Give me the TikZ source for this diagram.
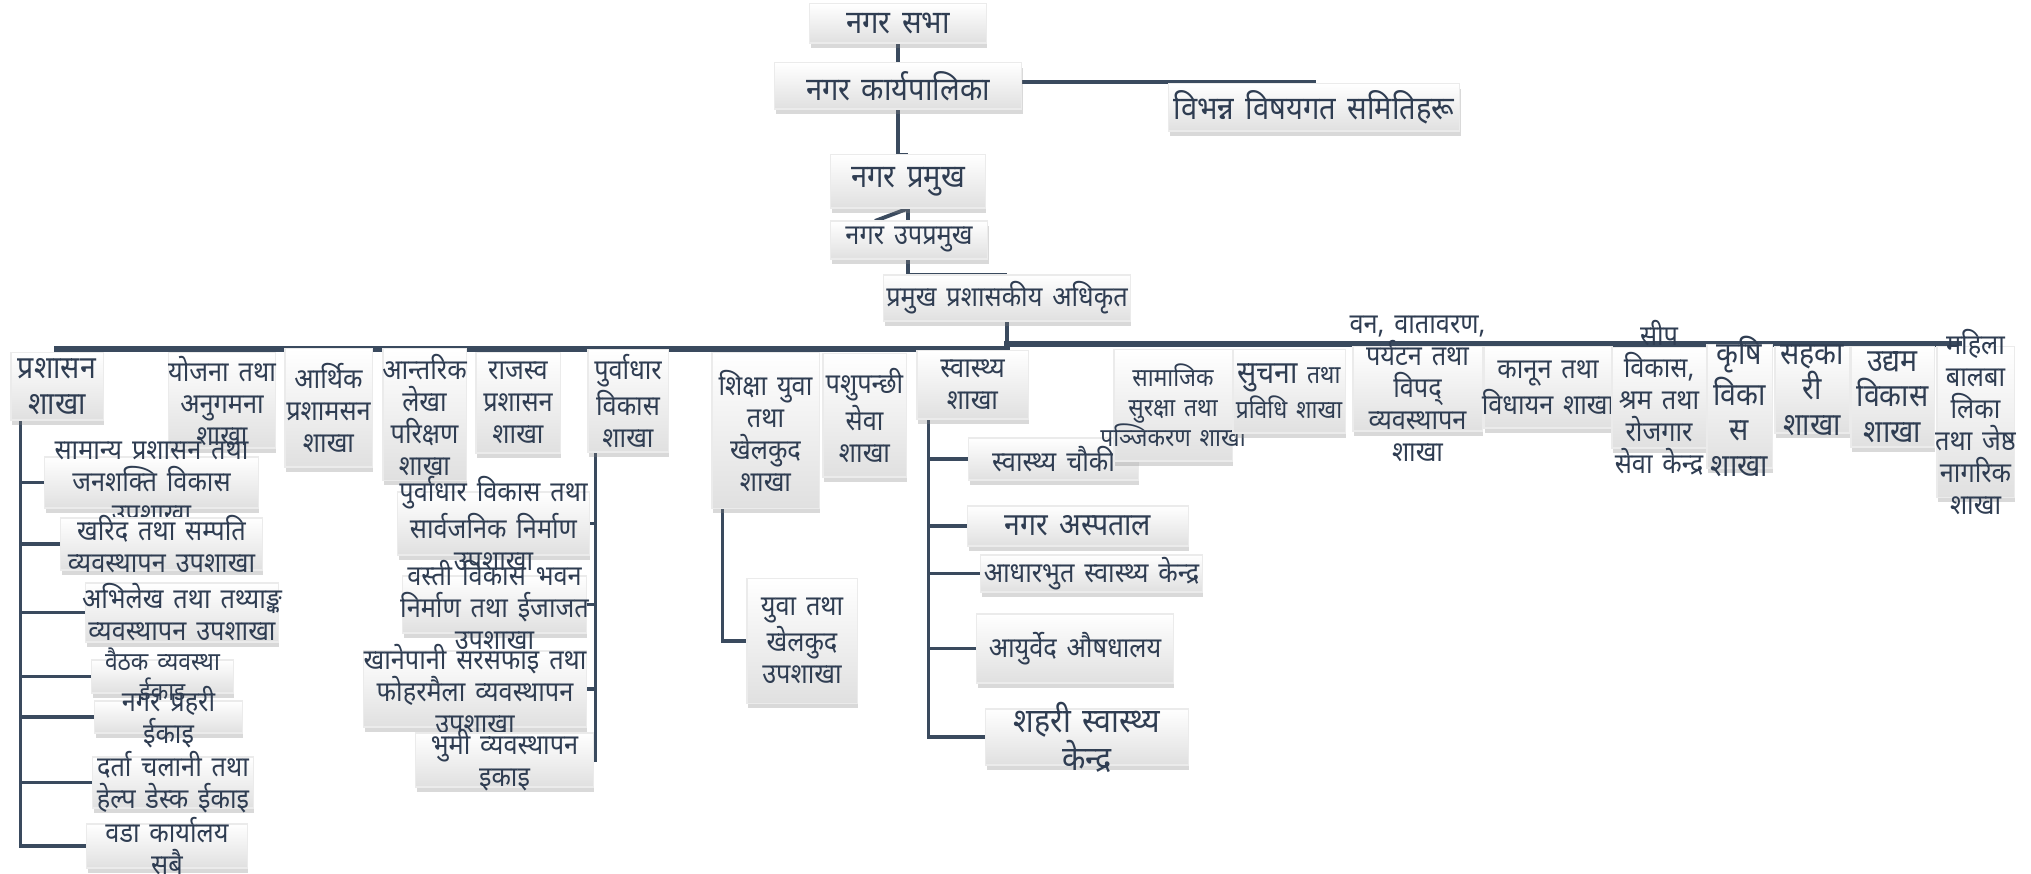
\documentclass[tikz,border=0pt]{standalone}
\usepackage{fontspec}
\setmainfont[Script=Devanagari, FakeStretch=0.9, WordSpace=1.5]{Noto Sans}
\usepackage{tikz}
\usetikzlibrary{shadows,backgrounds}

\definecolor{linkclr}{HTML}{3A4A5E}
\definecolor{textclr}{HTML}{2F3D52}
\definecolor{boxbot}{HTML}{E0E0E0}

\tikzset{
    unit/.style={inner sep=0pt, top color=white, bottom color=boxbot, draw=black!8, line width=0.3pt,
        drop shadow={shadow xshift=0.4pt, shadow yshift=-1.4pt, opacity=0.3}},
    txt/.style={text=textclr, align=center, inner sep=0pt, font=\fontsize{8}{9.1}\selectfont},
    txtbig/.style={txt, font=\fontsize{9}{10.1}\selectfont},
    txthuge/.style={txt, font=\fontsize{9.6}{10.8}\selectfont},
    txtsmall/.style={txt, font=\fontsize{7.2}{8.5}\selectfont},
    txttop/.style={txt, font=\fontsize{9.2}{10.5}\selectfont},
    link/.style={draw=linkclr, line width=1.1pt},
    bus/.style={draw=linkclr, line width=1.5pt},
}

\begin{document}
\begin{tikzpicture}[x=0.01cm, y=-0.01cm]
    \useasboundingbox (0,0) rectangle (2031,874);

    \node[unit, minimum width=1.76cm, minimum height=0.39cm, label={[txttop]center:नगर सभा}] (sabha) at (898,23.5) {};
    \node[unit, minimum width=2.47cm, minimum height=0.46cm, label={[txttop]center:नगर कार्यपालिका}] (karya) at (898,86) {};
    \node[unit, minimum width=2.90cm, minimum height=0.47cm, label={[txttop]center:विभन्न विषयगत समितिहरू}] (samiti) at (1314,107.5) {};
    \node[unit, minimum width=1.54cm, minimum height=0.53cm, label={[txttop]center:नगर प्रमुख}] (pramukh) at (908,181.5) {};
    \node[unit, minimum width=1.57cm, minimum height=0.38cm, label={[txt]center:नगर उपप्रमुख}] (upa) at (909,240) {};
    \node[unit, minimum width=2.46cm, minimum height=0.46cm, label={[txt]center:प्रमुख प्रशासकीय अधिकृत}] (cao) at (1007,298) {};
    \coordinate (kr) at (1316,82);
    \coordinate (dg) at (875,221);
    \coordinate (busL) at (54,349);
    \coordinate (busR) at (1962,344);

    \node[unit, minimum width=0.92cm, minimum height=0.67cm, label={[txtbig]center:{प्रशासन\\शाखा}}] (prashasan) at (57,386.5) {};
    \node[unit, minimum width=1.06cm, minimum height=0.95cm, label={[txt]center:{योजना तथा\\अनुगमना\\शाखा}}] (yojana) at (222,400.5) {};
    \node[unit, minimum width=0.87cm, minimum height=1.18cm, label={[txt]center:{आर्थिक\\प्रशामसन\\शाखा}}] (arthik) at (328.5,408) {};
    \node[unit, minimum width=0.83cm, minimum height=1.31cm, label={[txt]center:{आन्तरिक\\लेखा\\परिक्षण\\शाखा}}] (lekha) at (424.5,414.5) {};
    \node[unit, minimum width=0.84cm, minimum height=1.00cm, label={[txt]center:{राजस्व\\प्रशासन\\शाखा}}] (rajaswa) at (518,403) {};
    \node[unit, minimum width=0.80cm, minimum height=1.02cm, label={[txt]center:{पुर्वाधार\\विकास\\शाखा}}] (purwadhar) at (628,401) {};
    \node[unit, minimum width=1.07cm, minimum height=1.55cm, label={[txt]center:{शिक्षा युवा\\तथा\\खेलकुद\\शाखा}}] (shiksha) at (765.5,430.5) {};
    \node[unit, minimum width=0.83cm, minimum height=1.23cm, label={[txt]center:{पशुपन्छी\\सेवा\\शाखा}}] (pashu) at (864.5,415.5) {};
    \node[unit, minimum width=1.11cm, minimum height=0.68cm, label={[txt]center:{स्वास्थ्य\\शाखा}}] (swasthya) at (972.5,385) {};

    \node[unit, minimum width=2.13cm, minimum height=0.51cm, label={[txt]center:{सामान्य प्रशासन तथा\\जनशक्ति विकास\\उपशाखा}}] (samanya) at (151.5,482.5) {};
    \node[unit, minimum width=2.01cm, minimum height=0.52cm, label={[txt]center:{खरिद तथा सम्पति\\व्यवस्थापन उपशाखा}}] (kharid) at (161.5,544) {};
    \node[unit, minimum width=1.92cm, minimum height=0.59cm, label={[txt]center:{अभिलेख तथा तथ्याङ्क\\व्यवस्थापन उपशाखा}}] (abhilekh) at (182,612.5) {};
    \node[unit, minimum width=1.41cm, minimum height=0.33cm, label={[txtsmall]center:{वैठक व्यवस्था\\ईकाइ}}] (baithak) at (162.5,676.5) {};
    \node[unit, minimum width=1.47cm, minimum height=0.32cm, label={[txt]center:{नगर प्रहरी\\ईकाइ}}] (prahari) at (168.5,717) {};
    \node[unit, minimum width=1.60cm, minimum height=0.51cm, label={[txt]center:{दर्ता चलानी तथा\\हेल्प डेस्क ईकाइ}}] (darta) at (173,782.5) {};
    \node[unit, minimum width=1.60cm, minimum height=0.44cm, label={[txt]center:{वडा कार्यालय\\सबै}}] (wada) at (167,846) {};

    \node[unit, minimum width=1.91cm, minimum height=0.63cm, label={[txt]center:{पुर्वाधार विकास तथा\\सार्वजनिक निर्माण\\उपशाखा}}] (nirman) at (493.5,523.5) {};
    \node[unit, minimum width=1.83cm, minimum height=0.57cm, label={[txt]center:{वस्ती विकास भवन\\निर्माण तथा ईजाजत\\उपशाखा}}] (basti) at (494.5,604.5) {};
    \node[unit, minimum width=2.22cm, minimum height=0.76cm, label={[txt]center:{खानेपानी सरसफाइ तथा\\फोहरमैला व्यवस्थापन\\उपशाखा}}] (khanepani) at (475,689) {};
    \node[unit, minimum width=1.77cm, minimum height=0.54cm, label={[txt]center:{भुमी व्यवस्थापन\\इकाइ}}] (bhumi) at (504.5,760) {};

    \node[unit, minimum width=1.10cm, minimum height=1.24cm, label={[txt]center:{युवा तथा\\खेलकुद\\उपशाखा}}] (yuwa) at (802,641) {};

    \node[unit, minimum width=1.69cm, minimum height=0.42cm, label={[txt]center:स्वास्थ्य चौकी}] (chauki) at (1053.5,459) {};
    \node[unit, minimum width=2.20cm, minimum height=0.40cm, label={[txtbig]center:नगर अस्पताल}] (aspatal) at (1078,526) {};
    \node[unit, minimum width=2.21cm, minimum height=0.37cm, label={[txt]center:आधारभुत स्वास्थ्य केन्द्र}] (aadhar) at (1091.5,573.5) {};
    \node[unit, minimum width=1.96cm, minimum height=0.69cm, label={[txt]center:आयुर्वेद औषधालय}] (ayurved) at (1075,648.5) {};
    \node[unit, minimum width=2.02cm, minimum height=0.56cm, label={[txthuge]center:{शहरी स्वास्थ्य\\केन्द्र}}] (shahari) at (1087,737) {};

    \node[unit, minimum width=1.18cm, minimum height=1.11cm, label={[txtsmall]center:{सामाजिक\\सुरक्षा तथा\\पञ्जिकरण शाखा}}] (samajik) at (1173,405.5) {};
    \node[unit, minimum width=1.12cm, minimum height=0.83cm, label={[txtsmall]center:{{\fontsize{9}{10}\selectfont सुचना} तथा\\प्रविधि शाखा}}] (suchana) at (1289,391.5) {};
    \node[unit, minimum width=1.29cm, minimum height=0.84cm, label={[txt]center:{वन, वातावरण,\\पर्यटन तथा\\विपद्\\व्यवस्थापन\\शाखा}}] (ban) at (1417.5,389) {};
    \node[unit, minimum width=1.28cm, minimum height=0.81cm, label={[txt]center:{कानून तथा\\विधायन शाखा}}] (kanun) at (1548,387.5) {};
    \node[unit, minimum width=0.94cm, minimum height=1.00cm, label={[txt]center:{सीप\\विकास,\\श्रम तथा\\रोजगार\\सेवा केन्द्र}}] (seep) at (1659,398) {};
    \node[unit, minimum width=0.65cm, minimum height=1.23cm, label={[txtbig]center:{कृषि\\विका\\स\\शाखा}}] (krishi) at (1739.5,406.5) {};
    \node[unit, minimum width=0.74cm, minimum height=0.86cm, label={[txtbig]center:{सहका\\री\\शाखा}}] (sahakari) at (1812,390) {};
    \node[unit, minimum width=0.83cm, minimum height=1.00cm, label={[txtbig]center:{उद्यम\\विकास\\शाखा}}] (udyam) at (1892.5,397) {};
    \node[unit, minimum width=0.77cm, minimum height=1.50cm, label={[txt]center:{महिला\\बालबा\\लिका\\तथा जेष्ठ\\नागरिक\\शाखा}}] (mahila) at (1975.5,422) {};

    \coordinate (t1) at ([xshift=0.1cm]prashasan.south west);
    \coordinate (t2) at ([xshift=0.08cm]purwadhar.south west);
    \coordinate (t3) at ([xshift=0.11cm]shiksha.south west);
    \coordinate (t4) at ([xshift=0.12cm]swasthya.south west);

    \begin{scope}[on background layer]
        \draw[link] (sabha) -- (karya);
        \draw[link] (karya.east |- kr) -- (kr);
        \draw[link] (karya) |- (pramukh.north);
        \draw[link] (pramukh.south) -- (upa.north -| pramukh.south);
        \draw[link] (pramukh.south) -- (dg);
        \draw[link] (upa.south -| pramukh.south) |- (cao.north);
        \draw[link] (cao.south) -- (cao.south |- busL);
        \draw[bus] (busL) -- (busL -| cao.south) -- (cao.south |- busR) -- (busR);
        \draw[link] (t1) |- (wada.west);
        \foreach \n in {samanya,kharid,abhilekh,baithak,prahari,darta}
            \draw[link] (t1 |- \n.west) -- (\n.west);
        \draw[link] (t2) |- (bhumi.east);
        \foreach \n in {nirman,basti,khanepani}
            \draw[link] (t2 |- \n.east) -- (\n.east);
        \draw[link] (t3) |- (yuwa.west);
        \draw[link] (t4) |- (shahari.west);
        \foreach \n in {chauki,aspatal,aadhar,ayurved}
            \draw[link] (t4 |- \n.west) -- (\n.west);
    \end{scope}
\end{tikzpicture}
\end{document}
